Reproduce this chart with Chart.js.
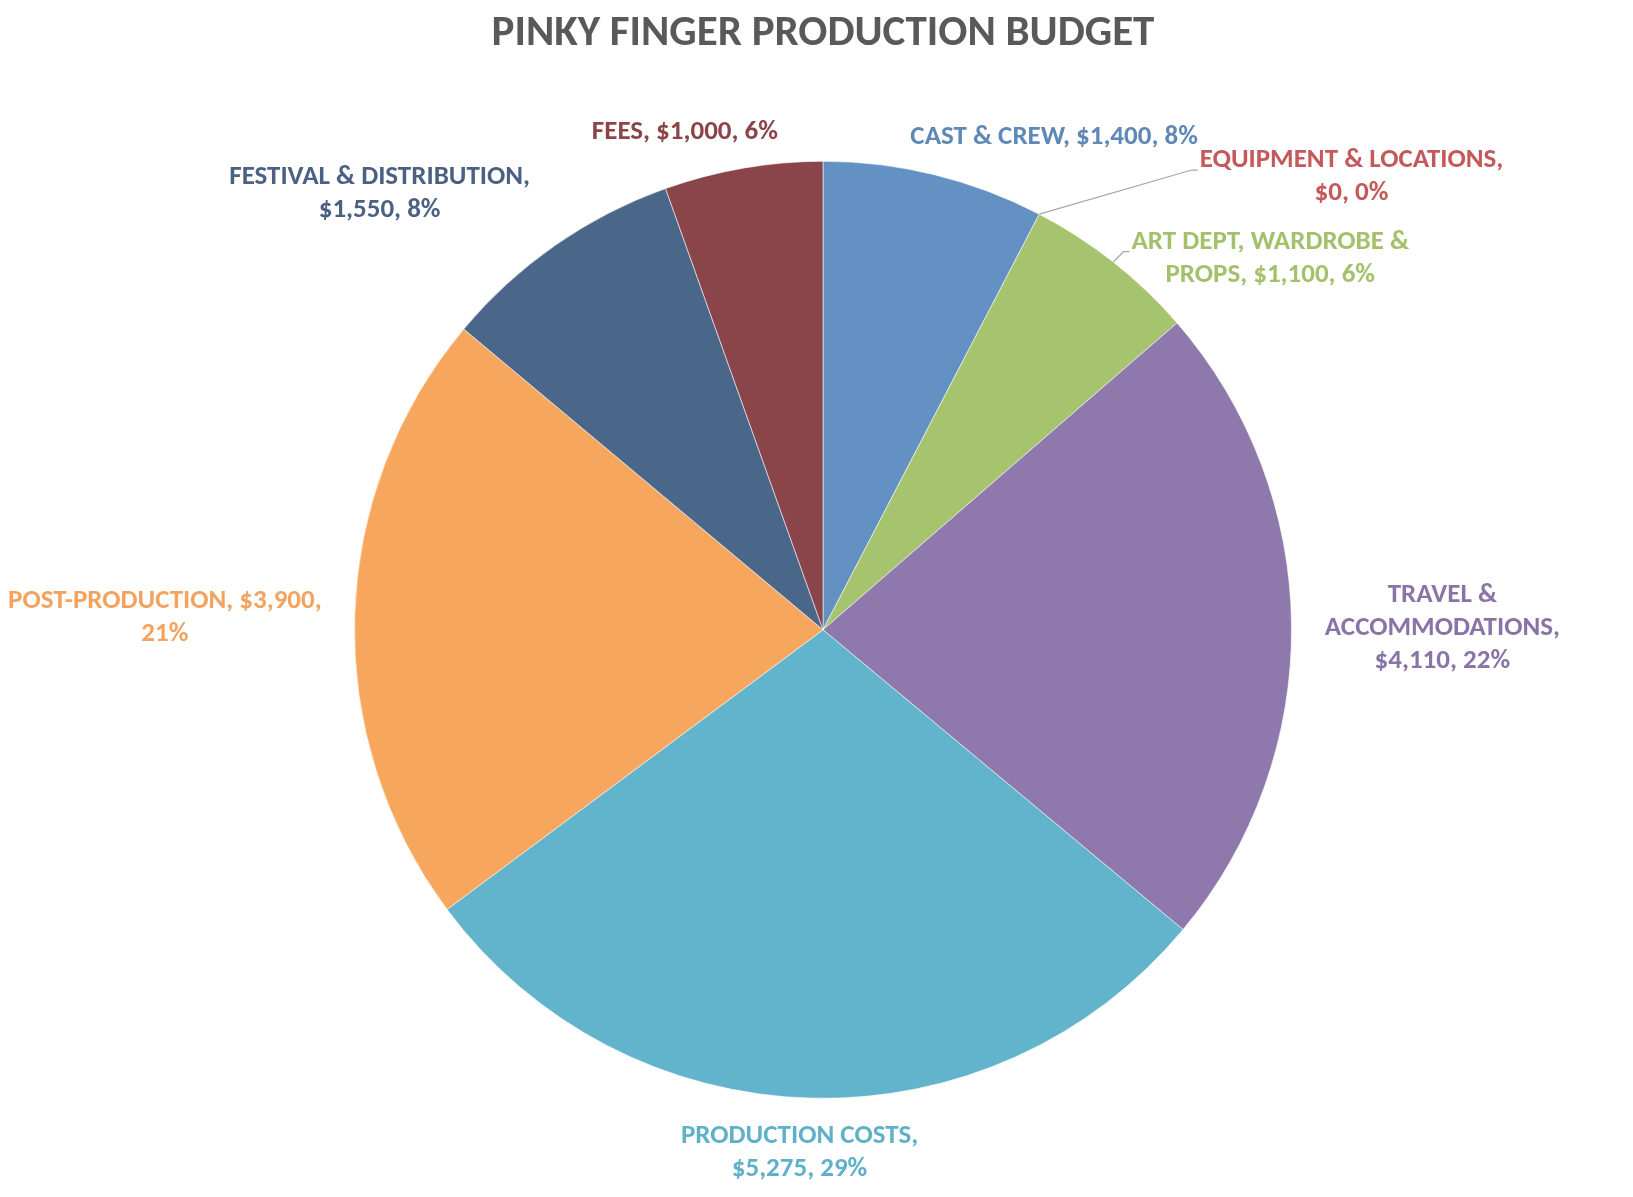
<!DOCTYPE html>
<html>
<head>
<meta charset="utf-8">
<title>Pinky Finger Production Budget</title>
<script src="https://cdn.jsdelivr.net/npm/chart.js@4.4.1/dist/chart.umd.min.js"></script>
<style>
  html, body { margin: 0; padding: 0; background: #fff; }
  #wrap { width: 1633px; height: 1197px; position: relative; }
</style>
</head>
<body>
<div id="wrap"><canvas id="myChart"></canvas></div>
<script>
// budget lines, clockwise from 12 o'clock
const categories = [
  'CAST & CREW',
  'EQUIPMENT & LOCATIONS',
  'ART DEPT, WARDROBE & PROPS',
  'TRAVEL & ACCOMMODATIONS',
  'PRODUCTION COSTS',
  'POST-PRODUCTION',
  'FESTIVAL & DISTRIBUTION',
  'FEES'
];
const budget = [1400, 0, 1100, 4110, 5275, 3900, 1550, 1000];
// percentages as printed on the chart
const shares = [8, 0, 6, 22, 29, 21, 8, 6];

const sliceColors = ['#6391C4', '#C0504D', '#A6C36E', '#8F78AB', '#62B4CC', '#F7A65E', '#4A6689', '#89454A'];
const labelColors = ['#5E88B8', '#C4585A', '#A3C06B', '#8A74A7', '#5FB0C8', '#F4A35E', '#4A6183', '#8B4548'];

const FONT_STACK = 'Carlito, "Liberation Sans Narrow", Lato, sans-serif';

// where each label sits: turn (deg) from the slice middle, distance in radii, wrap width
const placement = [
  { turn: 11.4,  dist: 1.161, wrap: 400 },
  { turn: 21.9,  dist: 1.486, wrap: 320, leader: 'edge' },
  { turn: 12.0,  dist: 1.241, wrap: 290, leader: 'mid' },
  { turn: 0.4,   dist: 1.322, wrap: 250 },
  { turn: 1.0,   dist: 1.117, wrap: 250 },
  { turn: -0.6,  dist: 1.405, wrap: 320 },
  { turn: -10.6, dist: 1.328, wrap: 310 },
  { turn: -5.7,  dist: 1.102, wrap: 400 }
];

function wrapText(ctx, text, maxWidth) {
  const words = text.split(' ');
  const lines = [];
  let line = '';
  words.forEach(w => {
    const test = line ? line + ' ' + w : w;
    if (line && ctx.measureText(test).width > maxWidth) {
      lines.push(line);
      line = w;
    } else {
      line = test;
    }
  });
  if (line) lines.push(line);
  return lines;
}

const pieLabels = {
  id: 'pieLabels',
  afterDatasetsDraw(chart, args, opts) {
    const ctx = chart.ctx;
    const meta = chart.getDatasetMeta(0);
    ctx.save();
    ctx.font = opts.font;
    ctx.textAlign = 'center';
    ctx.textBaseline = 'middle';
    meta.data.forEach((arc, i) => {
      const p = placement[i];
      const mid = (arc.startAngle + arc.endAngle) / 2;
      const ang = mid + p.turn * Math.PI / 180;
      const r = arc.outerRadius * p.dist;
      const cx = arc.x + Math.cos(ang) * r;
      const cy = arc.y + Math.sin(ang) * r;
      const text = categories[i] + ', $' + budget[i].toLocaleString('en-US') + ', ' + shares[i] + '%';
      const lines = wrapText(ctx, text, p.wrap);
      const lh = opts.lineHeight;
      const top = cy - (lines.length - 1) * lh / 2;

      if (p.leader) {
        const a = p.leader === 'edge' ? arc.startAngle : mid;
        const sx = arc.x + Math.cos(a) * arc.outerRadius;
        const sy = arc.y + Math.sin(a) * arc.outerRadius;
        const left = cx - ctx.measureText(lines[0]).width / 2;
        const ey = top + lh * 0.3;
        ctx.strokeStyle = '#A6A6A6';
        ctx.lineWidth = 1.2;
        ctx.beginPath();
        ctx.moveTo(sx, sy);
        ctx.lineTo(left - 8, ey);
        ctx.lineTo(left - 2, ey);
        ctx.stroke();
      }

      ctx.fillStyle = labelColors[i];
      lines.forEach((ln, j) => ctx.fillText(ln, cx, top + j * lh));
    });
    ctx.restore();
  }
};

const ctx = document.getElementById('myChart');

new Chart(ctx, {
  type: 'pie',
  data: {
    labels: categories,
    datasets: [{
      data: budget,
      backgroundColor: sliceColors,
      borderColor: 'rgba(255,255,255,0.55)',
      borderWidth: 1
    }]
  },
  options: {
    responsive: true,
    maintainAspectRatio: false,
    animation: false,
    layout: {
      padding: { left: 354, right: 341, top: 0, bottom: 98 }
    },
    plugins: {
      legend: { display: false },
      tooltip: { enabled: false },
      title: {
        display: true,
        text: 'PINKY FINGER PRODUCTION BUDGET',
        color: '#595959',
        font: { family: FONT_STACK, size: 43, weight: 'bold', lineHeight: 1.2 },
        padding: { top: 8, bottom: 101 }
      },
      pieLabels: {
        font: 'bold 27px ' + FONT_STACK,
        lineHeight: 33
      }
    }
  },
  plugins: [pieLabels]
});
</script>
</body>
</html>
